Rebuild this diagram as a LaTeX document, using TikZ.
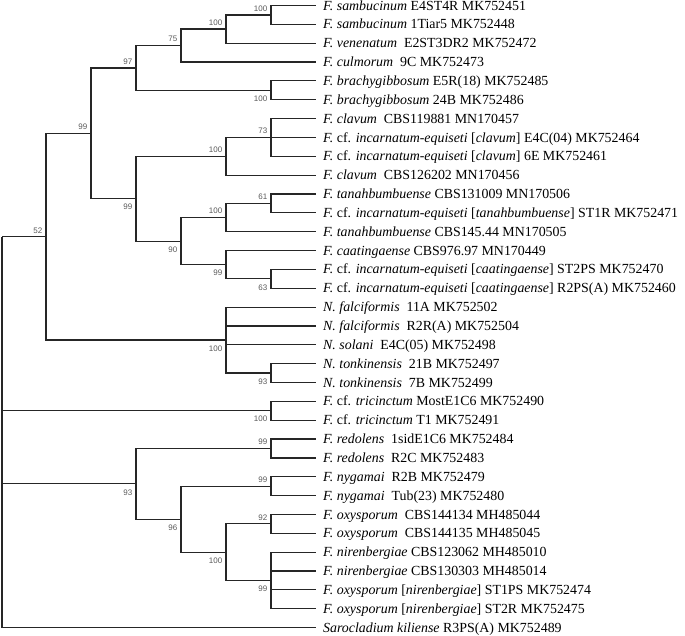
\documentclass[tikz,border=0pt]{standalone}
\usepackage{fontspec}
\setmainfont{Liberation Serif}
\newfontfamily\bsfont{Liberation Sans}
\begin{document}
\begin{tikzpicture}[x=1pt,y=-1pt,
  br/.style={line width=1.2pt, draw=black!85},
  tip/.style={anchor=west, inner xsep=7pt, inner ysep=0pt, text height=12.7pt, text depth=3.5pt, font=\fontsize{13.9}{16}\selectfont},
  bsa/.style={anchor=south east, inner sep=0pt, xshift=-3.5pt, yshift=3.3pt, font=\bsfont\fontsize{8}{9}\selectfont, text=black!65},
  bsb/.style={anchor=north east, inner sep=0pt, xshift=-3.5pt, yshift=-5.4pt, font=\bsfont\fontsize{8}{9}\selectfont, text=black!65}]
\useasboundingbox (0,0) rectangle (685,636);
% tips
\node[tip] (t1) at (316,5.5) {\textit{F. sambucinum} E4ST4R MK752451};
\node[tip] (t2) at (316,24.35) {\textit{F. sambucinum} 1Tiar5 MK752448};
\node[tip] (t3) at (316,43.2) {\textit{F. venenatum}\ \ E2ST3DR2 MK752472};
\node[tip] (t4) at (316,62.05) {\textit{F. culmorum}\ \ 9C MK752473};
\node[tip] (t5) at (316,80.9) {\textit{F. brachygibbosum} E5R(18) MK752485};
\node[tip] (t6) at (316,99.75) {\textit{F. brachygibbosum} 24B MK752486};
\node[tip] (t7) at (316,118.6) {\textit{F. clavum}\ \ CBS119881 MN170457};
\node[tip] (t8) at (316,137.45) {\textit{F.} cf. \textit{incarnatum-equiseti} [\textit{clavum}] E4C(04) MK752464};
\node[tip] (t9) at (316,156.3) {\textit{F.} cf. \textit{incarnatum-equiseti} [\textit{clavum}] 6E MK752461};
\node[tip] (t10) at (316,175.15) {\textit{F. clavum}\ \ CBS126202 MN170456};
\node[tip] (t11) at (316,194.0) {\textit{F. tanahbumbuense} CBS131009 MN170506};
\node[tip] (t12) at (316,212.85) {\textit{F.} cf. \textit{incarnatum-equiseti} [\textit{tanahbumbuense}] ST1R MK752471};
\node[tip] (t13) at (316,231.7) {\textit{F. tanahbumbuense} CBS145.44 MN170505};
\node[tip] (t14) at (316,250.55) {\textit{F. caatingaense} CBS976.97 MN170449};
\node[tip] (t15) at (316,269.4) {\textit{F.} cf. \textit{incarnatum-equiseti} [\textit{caatingaense}] ST2PS MK752470};
\node[tip] (t16) at (316,288.25) {\textit{F.} cf. \textit{incarnatum-equiseti} [\textit{caatingaense}] R2PS(A) MK752460};
\node[tip] (t17) at (316,307.1) {\textit{N. falciformis}\ \ 11A MK752502};
\node[tip] (t18) at (316,325.95) {\textit{N. falciformis}\ \ R2R(A) MK752504};
\node[tip] (t19) at (316,344.8) {\textit{N. solani}\ \ E4C(05) MK752498};
\node[tip] (t20) at (316,363.65) {\textit{N. tonkinensis}\ \ 21B MK752497};
\node[tip] (t21) at (316,382.5) {\textit{N. tonkinensis}\ \ 7B MK752499};
\node[tip] (t22) at (316,401.35) {\textit{F.} cf. \textit{tricinctum} MostE1C6 MK752490};
\node[tip] (t23) at (316,420.2) {\textit{F.} cf. \textit{tricinctum} T1 MK752491};
\node[tip] (t24) at (316,439.05) {\textit{F. redolens}\ \ 1sidE1C6 MK752484};
\node[tip] (t25) at (316,457.9) {\textit{F. redolens}\ \ R2C MK752483};
\node[tip] (t26) at (316,476.75) {\textit{F. nygamai}\ \ R2B MK752479};
\node[tip] (t27) at (316,495.6) {\textit{F. nygamai}\ \ Tub(23) MK752480};
\node[tip] (t28) at (316,514.45) {\textit{F. oxysporum}\ \ CBS144134 MH485044};
\node[tip] (t29) at (316,533.3) {\textit{F. oxysporum}\ \ CBS144135 MH485045};
\node[tip] (t30) at (316,552.15) {\textit{F. nirenbergiae} CBS123062 MH485010};
\node[tip] (t31) at (316,571.0) {\textit{F. nirenbergiae} CBS130303 MH485014};
\node[tip] (t32) at (316,589.85) {\textit{F. oxysporum} [\textit{nirenbergiae}] ST1PS MK752474};
\node[tip] (t33) at (316,608.7) {\textit{F. oxysporum} [\textit{nirenbergiae}] ST2R MK752475};
\node[tip] (t34) at (316,627.55) {\textit{Sarocladium kiliense} R3PS(A) MK752489};
% internal nodes
\coordinate (A) at (271,14.93);
\coordinate (B) at (226,29.06);
\coordinate (C) at (181,45.56);
\coordinate (D) at (271,90.33);
\coordinate (E) at (136,67.94);
\coordinate (F) at (271,137.45);
\coordinate (G) at (226,156.3);
\coordinate (H) at (271,203.43);
\coordinate (I) at (226,217.56);
\coordinate (J) at (271,278.83);
\coordinate (K) at (226,264.69);
\coordinate (L) at (181,241.13);
\coordinate (M) at (136,198.71);
\coordinate (N) at (91,133.33);
\coordinate (O) at (271,373.08);
\coordinate (P) at (226,340.09);
\coordinate (Q) at (46,236.71);
\coordinate (R) at (271,410.78);
\coordinate (S) at (271,448.48);
\coordinate (T) at (271,486.18);
\coordinate (U) at (271,523.88);
\coordinate (V) at (271,580.43);
\coordinate (W) at (226,552.15);
\coordinate (X) at (181,519.17);
\coordinate (Y) at (136,483.83);
\coordinate (root) at (2,236.71);
% branches
\draw[br] (A) |- (t1.west); \draw[br] (A) |- (t2.west);
\draw[br] (B) |- (A); \draw[br] (B) |- (t3.west);
\draw[br] (C) |- (B); \draw[br] (C) |- (t4.west);
\draw[br] (D) |- (t5.west); \draw[br] (D) |- (t6.west);
\draw[br] (E) |- (C); \draw[br] (E) |- (D);
\draw[br] (F) |- (t7.west); \draw[br] (F) |- (t8.west); \draw[br] (F) |- (t9.west);
\draw[br] (G) |- (F); \draw[br] (G) |- (t10.west);
\draw[br] (H) |- (t11.west); \draw[br] (H) |- (t12.west);
\draw[br] (I) |- (H); \draw[br] (I) |- (t13.west);
\draw[br] (J) |- (t15.west); \draw[br] (J) |- (t16.west);
\draw[br] (K) |- (t14.west); \draw[br] (K) |- (J);
\draw[br] (L) |- (I); \draw[br] (L) |- (K);
\draw[br] (M) |- (G); \draw[br] (M) |- (L);
\draw[br] (N) |- (E); \draw[br] (N) |- (M);
\draw[br] (O) |- (t20.west); \draw[br] (O) |- (t21.west);
\draw[br] (P) |- (t17.west); \draw[br] (P) |- (t18.west); \draw[br] (P) |- (t19.west); \draw[br] (P) |- (O);
\draw[br] (Q) |- (N); \draw[br] (Q) |- (P);
\draw[br] (R) |- (t22.west); \draw[br] (R) |- (t23.west);
\draw[br] (S) |- (t24.west); \draw[br] (S) |- (t25.west);
\draw[br] (T) |- (t26.west); \draw[br] (T) |- (t27.west);
\draw[br] (U) |- (t28.west); \draw[br] (U) |- (t29.west);
\draw[br] (V) |- (t30.west); \draw[br] (V) |- (t31.west); \draw[br] (V) |- (t32.west); \draw[br] (V) |- (t33.west);
\draw[br] (W) |- (U); \draw[br] (W) |- (V);
\draw[br] (X) |- (T); \draw[br] (X) |- (W);
\draw[br] (Y) |- (S); \draw[br] (Y) |- (X);
\draw[br] (root) |- (Q); \draw[br] (root) |- (R); \draw[br] (root) |- (Y); \draw[br] (root) |- (t34.west);
% bootstrap values
\node[bsa] (bA) at (A) {100};
\node[bsa] (bB) at (B) {100};
\node[bsa] (bC) at (C) {75};
\node[bsb] (bD) at (D) {100};
\node[bsa] (bE) at (E) {97};
\node[bsa] (bF) at (F) {73};
\node[bsa] (bG) at (G) {100};
\node[bsa] (bH) at (H) {61};
\node[bsa] (bI) at (I) {100};
\node[bsb] (bJ) at (J) {63};
\node[bsb] (bK) at (K) {99};
\node[bsb] (bL) at (L) {90};
\node[bsb] (bM) at (M) {99};
\node[bsa] (bN) at (N) {99};
\node[bsb] (bO) at (O) {93};
\node[bsb] (bP) at (P) {100};
\node[bsa] (bQ) at (Q) {52};
\node[bsb] (bR) at (R) {100};
\node[bsa] (bS) at (S) {99};
\node[bsa] (bT) at (T) {99};
\node[bsa] (bU) at (U) {92};
\node[bsb] (bV) at (V) {99};
\node[bsb] (bW) at (W) {100};
\node[bsb] (bX) at (X) {96};
\node[bsb] (bY) at (Y) {93};
\end{tikzpicture}
\end{document}
